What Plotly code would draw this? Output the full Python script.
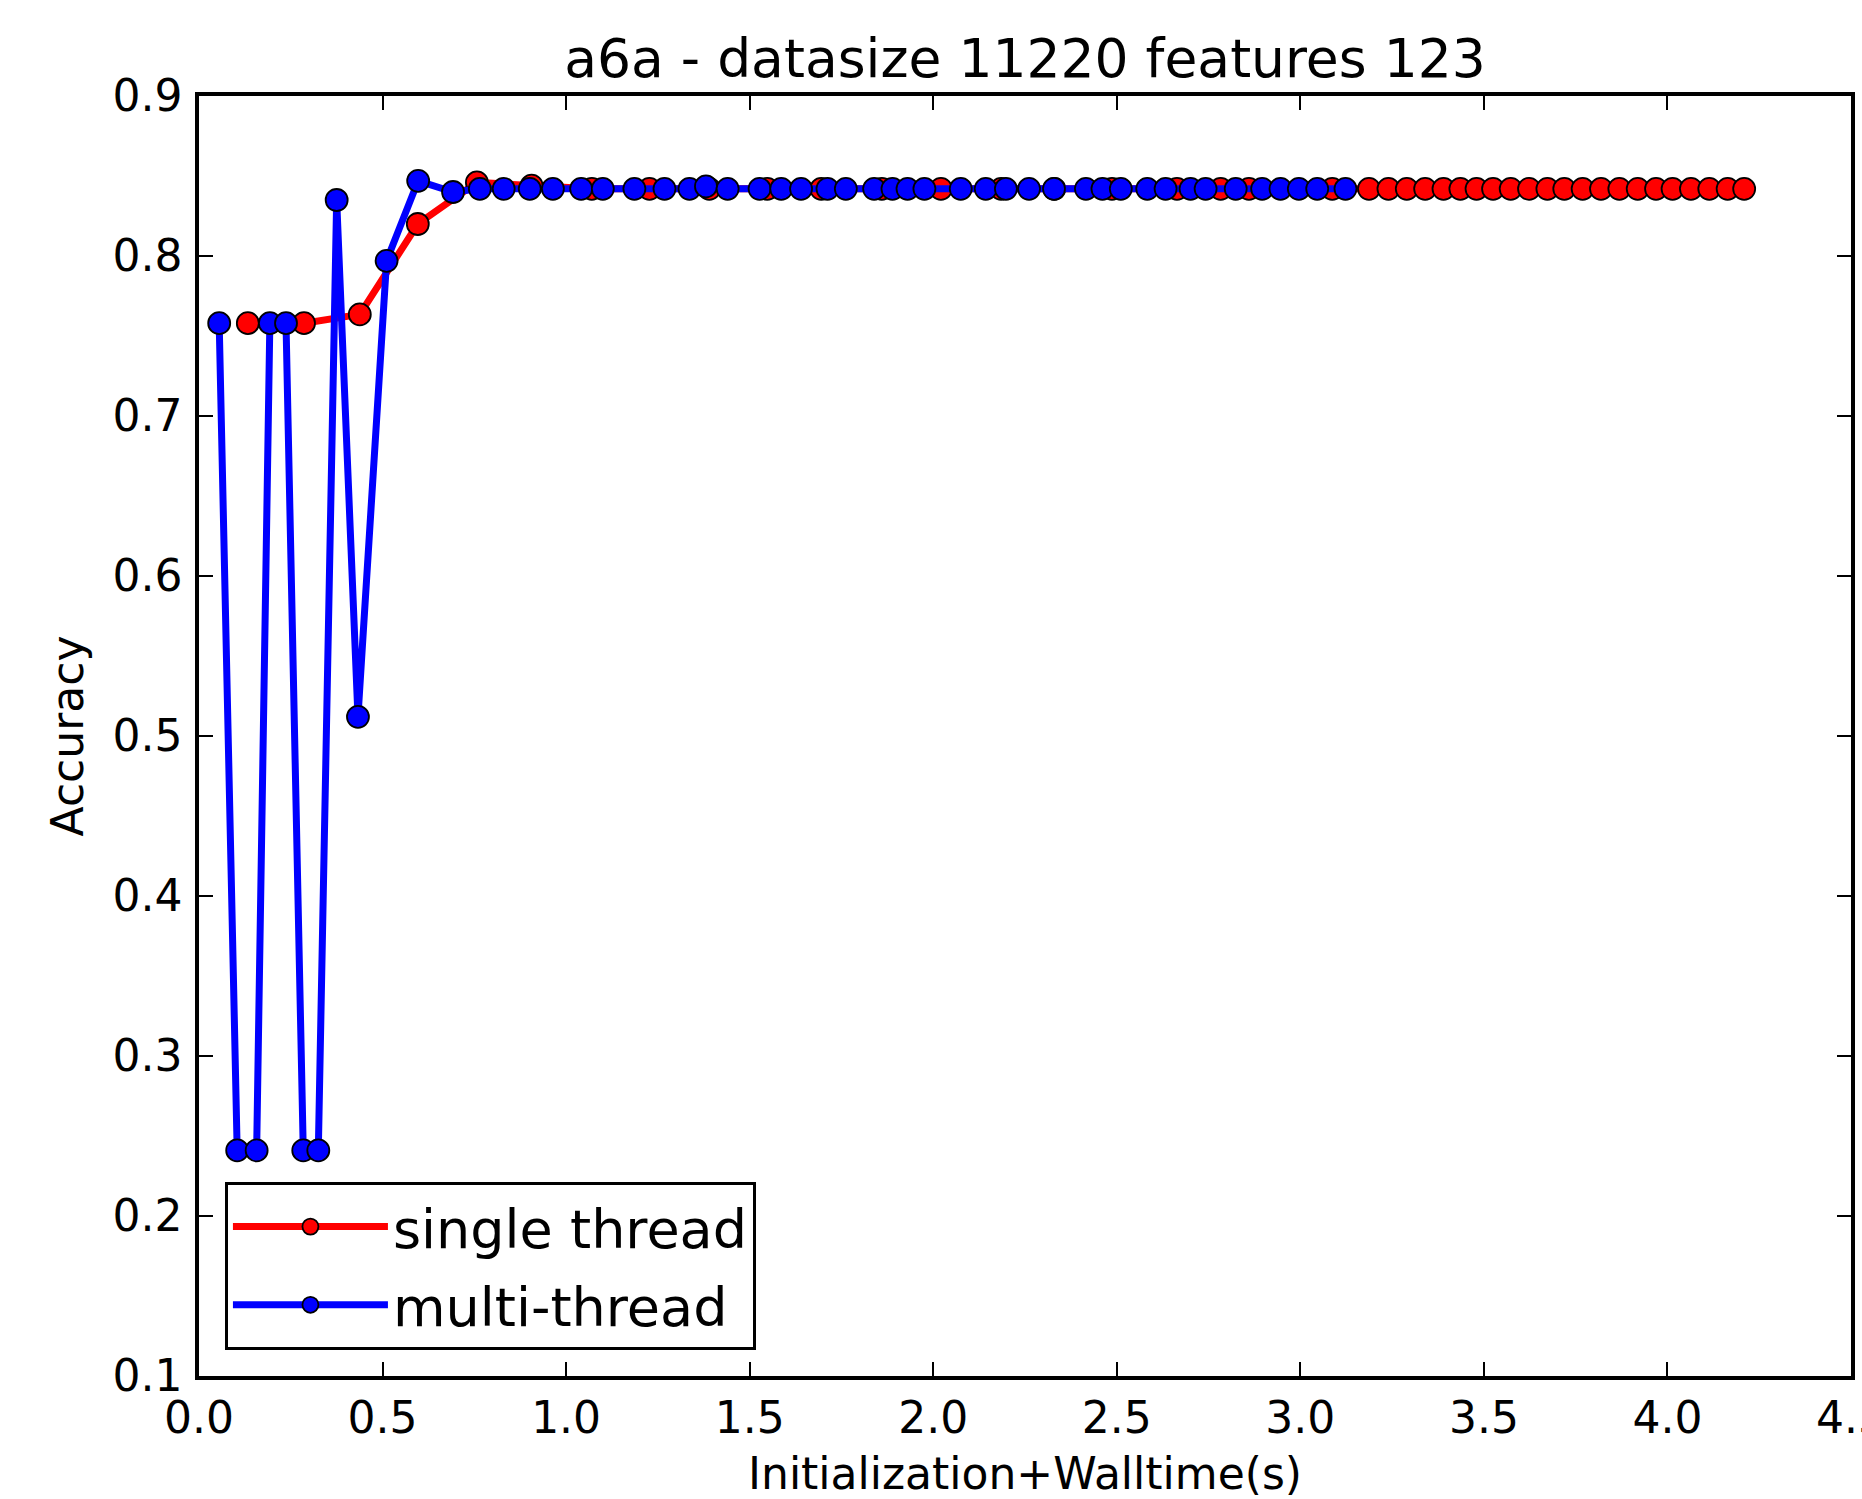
import plotly.graph_objects as go

# ---- data ----
single_t = [0.133, 0.286, 0.438, 0.596, 0.757, 0.906, 1.070, 1.227, 1.390, 1.548,
            1.695, 1.860, 2.021, 2.185, 2.330, 2.487, 2.664, 2.783, 2.860, 3.087,
            3.187, 3.240, 3.290, 3.340, 3.390, 3.436, 3.480, 3.525, 3.573, 3.623,
            3.673, 3.719, 3.769, 3.819, 3.869, 3.919, 3.969, 4.014, 4.064, 4.114,
            4.164, 4.209]
single_acc = [0.758, 0.758, 0.7635, 0.820, 0.846, 0.844, 0.842, 0.842, 0.842, 0.842,
              0.842, 0.842, 0.842, 0.842, 0.842, 0.842, 0.842, 0.842, 0.842, 0.842,
              0.842, 0.842, 0.842, 0.842, 0.842, 0.842, 0.842, 0.842, 0.842, 0.842,
              0.842, 0.842, 0.842, 0.842, 0.842, 0.842, 0.842, 0.842, 0.842, 0.842,
              0.842, 0.842]

multi_t = [0.055, 0.104, 0.157, 0.193, 0.237, 0.284, 0.325, 0.375, 0.433, 0.511,
           0.597, 0.692, 0.765, 0.830, 0.901, 0.964, 1.041, 1.100, 1.186, 1.268,
           1.336, 1.381, 1.440, 1.527, 1.586, 1.640, 1.712, 1.762, 1.839, 1.889,
           1.930, 1.976, 2.075, 2.143, 2.198, 2.261, 2.329, 2.416, 2.461, 2.511,
           2.583, 2.633, 2.701, 2.742, 2.824, 2.896, 2.946, 2.996, 3.046, 3.123]
multi_acc = [0.758, 0.241, 0.241, 0.758, 0.758, 0.241, 0.241, 0.835, 0.512, 0.797,
             0.847, 0.840, 0.842, 0.842, 0.842, 0.842, 0.842, 0.842, 0.842, 0.842,
             0.842, 0.8435, 0.842, 0.842, 0.842, 0.842, 0.842, 0.842, 0.842, 0.842,
             0.842, 0.842, 0.842, 0.842, 0.842, 0.842, 0.842, 0.842, 0.842, 0.842,
             0.842, 0.842, 0.842, 0.842, 0.842, 0.842, 0.842, 0.842, 0.842, 0.842]

x_ticks = [0.0, 0.5, 1.0, 1.5, 2.0, 2.5, 3.0, 3.5, 4.0, 4.5]
y_ticks = [0.1, 0.2, 0.3, 0.4, 0.5, 0.6, 0.7, 0.8, 0.9]

title_text = "a6a - datasize 11220 features 123"
x_label = "Initialization+Walltime(s)"
y_label = "Accuracy"

FONT = "DejaVu Sans"

fig = go.Figure()
fig.add_trace(go.Scatter(
    x=single_t, y=single_acc, mode="lines+markers", name="single thread",
    legendgroup="single",
    line=dict(color="#ff0000", width=7),
    marker=dict(color="#ff0000", size=22, line=dict(color="black", width=1.8)),
))
fig.add_trace(go.Scatter(
    x=multi_t, y=multi_acc, mode="lines+markers", name="multi-thread",
    legendgroup="multi",
    line=dict(color="#0000ff", width=7),
    marker=dict(color="#0000ff", size=22, line=dict(color="black", width=1.8)),
))

axis_common = dict(
    showline=True, linecolor="black", linewidth=3.5, mirror="ticks",
    ticks="inside", ticklen=14, tickwidth=2, tickcolor="black",
    showgrid=False, zeroline=False,
    tickfont=dict(family=FONT, size=44, color="black"),
    tickformat=".1f",
)

fig.update_xaxes(
    range=[0, 4.5], tickvals=x_ticks, ticklabeloverflow="allow",
    title=dict(text=x_label, font=dict(family=FONT, size=44, color="black"), standoff=32),
    ticklabelstandoff=0,
    **axis_common,
)
fig.update_yaxes(
    range=[0.1, 0.9], tickvals=y_ticks, ticklabeloverflow="allow",
    title=dict(text=y_label, font=dict(family=FONT, size=44, color="black"), standoff=16),
    ticklabelstandoff=4,
    **axis_common,
)

fig.update_layout(
    width=1862, height=1499,
    margin=dict(l=199, r=11, t=96, b=123, autoexpand=False),
    paper_bgcolor="white", plot_bgcolor="white",
    font=dict(family=FONT, color="black"),
    title=dict(text=title_text, font=dict(family=FONT, size=53.5, color="black"),
               x=(199 + 1851) / 2 / 1862, xanchor="center",
               y=1 - 58 / 1499, yanchor="middle"),
    legend=dict(
        x=0.0157, y=0.0203, xanchor="left", yanchor="bottom",
        bgcolor="white", bordercolor="black", borderwidth=3,
        font=dict(family=FONT, size=54, color="black"),
        itemwidth=155, tracegroupgap=5,
        entrywidth=505, entrywidthmode="pixels",
    ),
    showlegend=True,
)

fig.write_html("out.html", include_plotlyjs=True,
               config={"displayModeBar": False},
               post_script="document.body.style.margin='0';document.body.style.overflow='hidden';")
